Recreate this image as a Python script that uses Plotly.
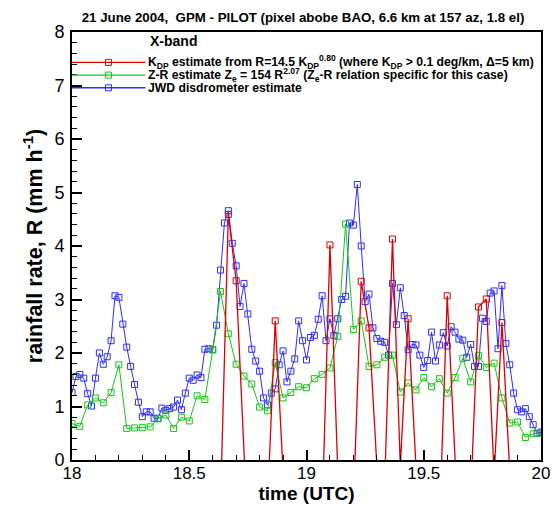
import plotly.graph_objects as go

# ---------------- data ----------------
start_hour = 18.0           # first sample, UTC hours
jwd_step_min = 1            # disdrometer sampling, minutes
radar_step_min = 2          # radar sampling, minutes

# JWD disdrometer estimate (mm/h), 1-minute samples 18:00 - 20:00
jwd_rate = [
    1.26, 1.56, 1.60, 1.53, 1.24, 1.01, 1.53, 2.00, 1.79, 1.93,
    2.23, 3.07, 3.04, 2.54, 2.11, 1.75, 1.41, 1.08, 0.81, 0.90,
    0.90, 0.78, 0.78, 0.97, 0.93, 0.96, 0.99, 1.12, 0.94, 1.25,
    1.53, 1.49, 1.59, 1.54, 2.07, 2.08, 2.06, 2.52, 3.55, 4.43,
    4.66, 4.05, 3.63, 2.87, 3.30, 2.73, 2.07, 1.85, 1.66, 1.16,
    1.03, 1.25, 1.33, 1.78, 2.04, 1.46, 1.66, 1.89, 2.60, 2.23,
    1.87, 2.29, 2.33, 2.63, 3.07, 2.23, 2.64, 2.33, 2.64, 3.00,
    3.06, 4.43, 4.39, 5.15, 4.00, 2.96, 3.10, 2.47, 2.27, 2.22,
    2.20, 1.96, 3.30, 2.53, 3.22, 2.70, 2.06, 2.16, 2.15, 1.96,
    1.73, 1.86, 2.39, 1.85, 2.15, 2.38, 2.13, 2.49, 2.39, 2.26,
    2.24, 1.92, 2.16, 1.75, 1.75, 2.65, 2.59, 3.12, 3.16, 2.08,
    3.26, 2.18, 1.78, 1.25, 0.94, 0.90, 0.96, 0.81, 0.66, 0.50,
    0.52,
]

# Z-R estimate (mm/h), 2-minute samples
zr_rate = [
    0.68, 0.63, 1.03, 1.16, 1.07, 1.26, 1.78, 0.59, 0.60, 0.61,
    0.62, 0.77, 0.84, 0.59, 0.80, 0.73, 1.20, 1.13, 2.06, 3.15,
    2.36, 1.79, 1.57, 1.42, 0.99, 0.92, 1.82, 1.16, 1.26, 1.37,
    1.35, 1.52, 1.60, 1.72, 2.31, 4.41, 2.44, 2.60, 1.75, 1.78,
    1.92, 1.96, 1.27, 1.44, 1.31, 1.54, 1.37, 1.52, 1.25, 1.54,
    1.90, 1.46, 1.95, 1.73, 1.81, 1.16, 0.69, 0.71, 0.42, 0.49,
    0.50,
]

# KDP estimate (mm/h), 2-minute samples (negative values fall below the axis)
kdp_rate = [
    -3.0, -3.0, -3.0, -3.0, -3.0, -3.0, -3.0, -3.0, -3.0, -3.0,
    -3.0, -3.0, -3.0, -3.0, -3.0, -3.0, -3.0, -3.0, -3.0, -0.81,
    4.59, 3.35, -0.30, -3.0, -3.0, -0.87, 2.60, -0.20, -3.0, -3.0,
    -3.0, -3.0, -1.00, 4.02, -0.20, -3.0, -0.84, 3.34, 2.47, -0.10,
    -0.46, 4.13, -0.10, 2.64, -0.10, -3.0, -3.0, -1.30, 3.07, -0.10,
    -3.0, -0.72, 2.86, 3.01, -0.30, 2.57, -0.10, -3.0, -3.0, -3.0,
    -3.0,
]

x_ticks = [18, 18.5, 19, 19.5, 20]
x_tick_text = ["18", "18.5", "19", "19.5", "20"]

title_text = "21 June 2004,  GPM - PILOT (pixel abobe BAO, 6.6 km at 157 az, 1.8 el)"
legend_header = "X-band"
kdp_name = ("K<sub>DP</sub> estimate from R=14.5 K<sub>DP</sub><sup>0.80</sup> "
            "(where K<sub>DP</sub> &gt; 0.1 deg/km, Δ=5 km)")
zr_name = ("Z-R estimate Z<sub>e</sub> = 154 R<sup>2.07</sup> "
           "(Z<sub>e</sub>-R relation specific for this case)")
jwd_name = "JWD disdrometer estimate"

RED = "rgb(220,0,0)"
GREEN = "rgb(20,200,20)"
BLUE = "rgb(45,45,255)"
FONT = "Liberation Sans, Arial, Helvetica, sans-serif"

jwd_time = [start_hour + k * jwd_step_min / 60 for k in range(len(jwd_rate))]
radar_time = [start_hour + k * radar_step_min / 60 for k in range(len(zr_rate))]

fig = go.Figure()
fig.add_trace(go.Scatter(
    x=jwd_time, y=jwd_rate, mode="lines+markers", name=jwd_name, showlegend=False,
    line=dict(color=BLUE, width=1),
    marker=dict(symbol="square-open", size=6, color=BLUE, line=dict(width=1)),
))
fig.add_trace(go.Scatter(
    x=radar_time, y=zr_rate, mode="lines+markers", name=zr_name, showlegend=False,
    line=dict(color=GREEN, width=1),
    marker=dict(symbol="square-open", size=6, color=GREEN, line=dict(width=1)),
))
fig.add_trace(go.Scatter(
    x=radar_time, y=kdp_rate, mode="lines+markers", name=kdp_name, showlegend=False,
    line=dict(color=RED, width=1.3),
    marker=dict(symbol="square-open", size=6, color=RED, line=dict(width=1)),
))

# ---- legend block drawn in paper coordinates (top-left, like the reference) ----
legend_rows = [(kdp_name, RED, 0.929), (zr_name, GREEN, 0.8993), (jwd_name, BLUE, 0.8697)]
key_end = 0.1565
key_mid = 0.0777
shapes = []
annotations = [dict(text="<b>" + legend_header + "</b>", xref="paper", yref="paper",
                    x=0.163, y=0.978, xanchor="left", yanchor="middle",
                    showarrow=False, font=dict(size=14, family=FONT, color="black"))]
for text, col, yy in legend_rows:
    shapes.append(dict(type="line", xref="paper", yref="paper", x0=0, x1=key_end,
                       y0=yy, y1=yy, line=dict(color=col, width=1.3)))
    shapes.append(dict(type="rect", xref="paper", yref="paper",
                       xsizemode="pixel", ysizemode="pixel",
                       xanchor=key_mid, yanchor=yy, x0=-3, x1=3, y0=-3, y1=3,
                       line=dict(color=col, width=1), fillcolor="rgba(0,0,0,0)"))
    annotations.append(dict(text="<b>" + text + "</b>", xref="paper", yref="paper",
                            x=key_end + 0.001, y=yy, xanchor="left", yanchor="middle",
                            showarrow=False,
                            font=dict(size=12.2, family=FONT, color="black")))

fig.update_layout(
    width=552, height=506,
    margin=dict(l=72, r=11, t=32, b=46),
    paper_bgcolor="white", plot_bgcolor="white",
    font=dict(family=FONT, color="black"),
    title=dict(text="<b>" + title_text + "</b>", x=0.549, xanchor="center",
               y=0.965, yanchor="middle", font=dict(size=13.3, family=FONT)),
    showlegend=False,
    shapes=shapes,
    annotations=annotations,
)

fig.update_xaxes(
    range=[18, 20], tickvals=x_ticks, ticktext=x_tick_text,
    ticks="inside", ticklen=10, tickwidth=2, tickcolor="black",
    minor=dict(dtick=0.1, ticks="inside", ticklen=5, tickwidth=1, tickcolor="black"),
    showline=True, linewidth=2, linecolor="black", mirror=True,
    showgrid=False, zeroline=False, automargin=False,
    ticklabelstandoff=-3,
    tickfont=dict(size=17, family=FONT),
    title=dict(text="<b>time (UTC)</b>", font=dict(size=19, family=FONT), standoff=4),
)
fig.update_yaxes(
    range=[0, 8], dtick=1,
    ticks="inside", ticklen=10, tickwidth=2, tickcolor="black",
    minor=dict(dtick=0.2, ticks="inside", ticklen=5, tickwidth=1, tickcolor="black"),
    showline=True, linewidth=2, linecolor="black", mirror=True,
    showgrid=False, zeroline=False, automargin=False,
    ticklabelstandoff=2,
    tickfont=dict(size=18, family=FONT),
    title=dict(text="<b>rainfall rate, R (mm h<sup>-1</sup>)</b>",
               font=dict(size=21.5, family=FONT), standoff=6),
)

fig.write_html("out.html",
               config={"displayModeBar": False},
               post_script="document.body.style.margin='0';document.body.style.overflow='hidden';")
